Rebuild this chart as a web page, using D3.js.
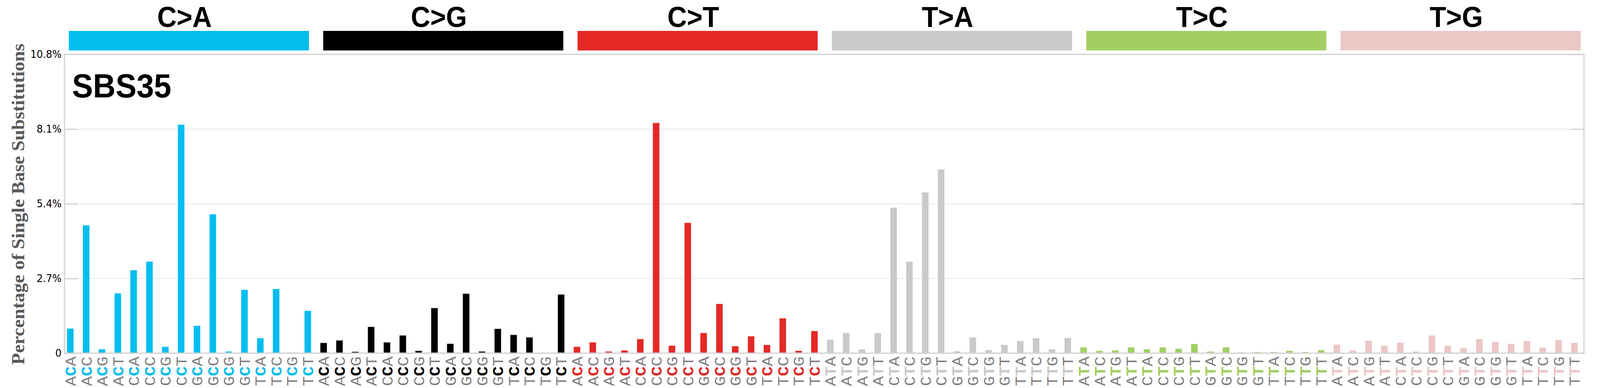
<!DOCTYPE html>
<meta charset="utf-8">
<style>
html, body { margin: 0; padding: 0; background: #fff; overflow: hidden; }
svg { display: block; }
.frame { fill: none; stroke: #d3d3d3; stroke-width: 3.3px; }
.grid line { stroke: #e8e8e8; stroke-width: 2px; }
.axis line { stroke: #d0d0d0; stroke-width: 3px; }
.axis path { display: none; }
.axis text { font-family: "DejaVu Sans", sans-serif; font-size: 27px; fill: #000; }
</style>
<body>

<script src="https://d3js.org/d3.v7.min.js"></script>
<script>

// mutation classes and their colours
var mutTypes = ["C>A", "C>G", "C>T", "T>A", "T>C", "T>G"];
var typeColors = ["#03BDEF", "#010101", "#E42926", "#CBCACA", "#A2CF63", "#ECC7C5"];

// 5' and 3' flanking bases, in plotting order
var flanks = ["AA", "AC", "AG", "AT", "CA", "CC", "CG", "CT",
              "GA", "GC", "GG", "GT", "TA", "TC", "TG", "TT"];

// percentages
var caValues = [0.89, 4.62, 0.14, 2.16, 3.00, 3.31, 0.23, 8.26, 0.99, 5.02, 0.06, 2.29, 0.54, 2.32, 0.02, 1.53];
var cgValues = [0.37, 0.46, 0.05, 0.95, 0.39, 0.64, 0.085, 1.63, 0.34, 2.15, 0.06, 0.88, 0.66, 0.57, 0.01, 2.12];
var ctValues = [0.23, 0.39, 0.06, 0.10, 0.51, 8.32, 0.27, 4.71, 0.73, 1.78, 0.25, 0.61, 0.30, 1.26, 0.085, 0.80];
var taValues = [0.49, 0.73, 0.14, 0.73, 5.26, 3.31, 5.81, 6.64, 0.07, 0.57, 0.11, 0.30, 0.44, 0.54, 0.14, 0.55];
var tcValues = [0.21, 0.085, 0.10, 0.21, 0.14, 0.21, 0.16, 0.33, 0.06, 0.21, 0.03, 0.04, 0.04, 0.085, 0.04, 0.11];
var tgValues = [0.31, 0.10, 0.45, 0.27, 0.38, 0.06, 0.64, 0.27, 0.18, 0.51, 0.41, 0.34, 0.44, 0.20, 0.48, 0.37];

var yTicks = [0, 2.7, 5.4, 8.1, 10.8];
var yTickLabels = ["0", "2.7%", "5.4%", "8.1%", "10.8%"];

var signatureName = "SBS35";
var yTitle = "Percentage of Single Base Substitutions";

// build one row per bar
var seriesValues = [caValues, cgValues, ctValues, taValues, tcValues, tgValues];
var rows = [];
mutTypes.forEach(function (t, g) {
    flanks.forEach(function (f, k) {
        rows.push({
            id: f[0] + "[" + t + "]" + f[1],
            type: t,
            group: g,
            left: f[0],
            mid: t[0],
            right: f[1],
            value: seriesValues[g][k]
        });
    });
});

// drawing is laid out on a 4393 x 992 canvas and stretched to the window
var W = 4393, H = 992;
var plot = {left: 177, right: 4349, top: 139, bottom: 903};

var svg = d3.select("body").append("svg")
    .attr("width", window.innerWidth || W)
    .attr("height", window.innerHeight || H)
    .attr("viewBox", "0 0 " + W + " " + H)
    .attr("preserveAspectRatio", "none");

// scales
var x = d3.scaleBand()
    .domain(rows.map(function (d) { return d.id; }))
    .range([plot.left, plot.right])
    .paddingInner(0.586)
    .paddingOuter(0.28)
    .align(0.29);

var y = d3.scaleLinear()
    .domain([0, 10.8])
    .range([plot.bottom, plot.top]);

var xType = d3.scaleBand()
    .domain(mutTypes)
    .range([189, 4340])
    .paddingInner(0.0558);

var color = d3.scaleOrdinal().domain(mutTypes).range(typeColors);

// gridlines
svg.append("g")
    .attr("class", "grid")
    .selectAll("line")
    .data(yTicks.slice(1, -1))
    .enter().append("line")
    .attr("x1", plot.left)
    .attr("x2", plot.right)
    .attr("y1", function (d) { return y(d); })
    .attr("y2", function (d) { return y(d); });

// bars
svg.append("g")
    .selectAll("rect")
    .data(rows)
    .enter().append("rect")
    .attr("x", function (d) { return x(d.id); })
    .attr("width", x.bandwidth())
    .attr("y", function (d) { return y(d.value); })
    .attr("height", function (d) { return y(0) - y(d.value); })
    .attr("fill", function (d) { return color(d.type); });

// axes: ticks drawn inward on both sides
svg.append("g")
    .attr("class", "axis")
    .attr("transform", "translate(" + plot.left + ",0)")
    .call(d3.axisLeft(y)
        .tickValues(yTicks)
        .tickFormat(function (d, i) { return yTickLabels[i]; })
        .tickSizeInner(-35)
        .tickSizeOuter(0)
        .tickPadding(8));

svg.append("g")
    .attr("class", "axis")
    .attr("transform", "translate(" + plot.right + ",0)")
    .call(d3.axisRight(y)
        .tickValues(yTicks)
        .tickFormat("")
        .tickSizeInner(-35)
        .tickSizeOuter(0));

// frame
svg.append("rect")
    .attr("class", "frame")
    .attr("x", plot.left)
    .attr("y", plot.top)
    .attr("width", plot.right - plot.left)
    .attr("height", plot.bottom - plot.top);

// category header bars and labels
svg.append("g")
    .selectAll("rect")
    .data(mutTypes)
    .enter().append("rect")
    .attr("x", function (d) { return xType(d); })
    .attr("y", 79)
    .attr("width", xType.bandwidth())
    .attr("height", 50)
    .attr("fill", function (d) { return color(d); });

svg.append("g")
    .selectAll("text")
    .data(mutTypes)
    .enter().append("text")
    .attr("x", function (d) { return xType(d) + xType.bandwidth() / 2 - 12; })
    .attr("y", 69)
    .attr("text-anchor", "middle")
    .style("font-family", "'Liberation Sans', Arial, sans-serif")
    .style("font-weight", "bold")
    .style("font-size", "74px")
    .text(function (d) { return d; });

// signature name
svg.append("text")
    .attr("x", 198)
    .attr("y", 249)
    .style("font-family", "'Liberation Sans', Arial, sans-serif")
    .style("font-weight", "bold")
    .style("font-size", "86px")
    .text(signatureName);

// y axis title
svg.append("text")
    .attr("transform", "translate(67,522) rotate(-90)")
    .attr("text-anchor", "middle")
    .style("font-family", "'Liberation Serif', 'Times New Roman', serif")
    .style("font-weight", "bold")
    .style("font-size", "49px")
    .style("fill", "#595959")
    .text(yTitle);

// trinucleotide labels, read bottom to top
var labels = svg.append("g")
    .selectAll("text")
    .data(rows)
    .enter().append("text")
    .attr("transform", function (d) {
        return "translate(" + (x(d.id) + x.bandwidth() / 2 + 15) + ",987) rotate(-90)";
    })
    .style("font-family", "'Courier New', 'Liberation Mono', monospace")
    .style("font-size", "42px");

labels.append("tspan")
    .style("fill", "#808080")
    .text(function (d) { return d.left; });
labels.append("tspan")
    .style("fill", function (d) { return color(d.type); })
    .style("font-weight", "bold")
    .text(function (d) { return d.mid; });
labels.append("tspan")
    .style("fill", "#808080")
    .text(function (d) { return d.right; });

</script>
</body>
